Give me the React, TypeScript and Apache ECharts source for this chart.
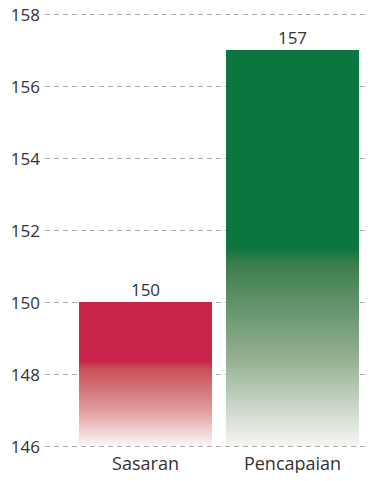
import React, { useEffect, useRef } from "react";
import * as echarts from "echarts";

const categories = ["Sasaran", "Pencapaian"];
const values = [150, 157];
const yMin = 146;
const yMax = 158;
const yInterval = 2;

const FONT = "'Open Sans', sans-serif";

export default function App() {
  const ref = useRef<HTMLDivElement>(null);
  useEffect(() => {
    if (!ref.current) return;
    const chart = echarts.init(ref.current, undefined, { renderer: "svg" });
    const redGrad = new echarts.graphic.LinearGradient(0, 0, 0, 1, [
      { offset: 0, color: "#c8234a" },
      { offset: 0.41, color: "#c8234a" },
      { offset: 0.46, color: "#c94d58" },
      { offset: 0.75, color: "#df9c9c" },
      { offset: 1, color: "#fcf7f7" },
    ]);
    const greenGrad = new echarts.graphic.LinearGradient(0, 0, 0, 1, [
      { offset: 0, color: "#0b7640" },
      { offset: 0.5, color: "#0b7640" },
      { offset: 0.54, color: "#3b7e4b" },
      { offset: 0.78, color: "#95b092" },
      { offset: 1, color: "#f5f5f3" },
    ]);
    chart.setOption({
      animation: false,
      grid: [
        { left: 72, right: 9, top: 14, bottom: 35 },
        { left: 45, right: 0, top: 14, bottom: 35 },
      ],
      xAxis: [
        {
          type: "category",
          gridIndex: 0,
          data: categories,
          axisLine: { show: false },
          axisTick: { show: false },
          axisLabel: { color: "#333", fontSize: 18, fontFamily: FONT, margin: 8 },
        },
        {
          type: "category",
          gridIndex: 1,
          data: categories,
          axisLine: { show: false },
          axisTick: { show: false },
          axisLabel: { show: false },
        },
      ],
      yAxis: [
        {
          type: "value",
          gridIndex: 0,
          min: yMin,
          max: yMax,
          interval: yInterval,
          axisLine: { show: false },
          axisTick: { show: false },
          axisLabel: { show: false },
          splitLine: { show: false },
        },
        {
          type: "value",
          gridIndex: 1,
          min: yMin,
          max: yMax,
          interval: yInterval,
          axisLine: { show: false },
          axisTick: { show: false },
          axisLabel: { color: "#333", fontSize: 17, fontFamily: FONT, margin: 5 },
          splitLine: {
            show: true,
            lineStyle: { color: "#aaaaaa", width: 1.2, type: [5, 4] },
          },
        },
      ],
      series: [
        {
          type: "bar",
          xAxisIndex: 0,
          yAxisIndex: 0,
          barWidth: 133,
          data: values.map((v, i) => ({
            value: v,
            itemStyle: { color: i === 0 ? redGrad : greenGrad },
          })),
          label: {
            show: true,
            position: "top",
            distance: 4,
            color: "#333",
            fontSize: 17,
            fontFamily: FONT,
          },
        },
      ],
    });
    return () => chart.dispose();
  }, []);
  return <div ref={ref} style={{ width: 375, height: 481, margin: -8 }} />;
}
